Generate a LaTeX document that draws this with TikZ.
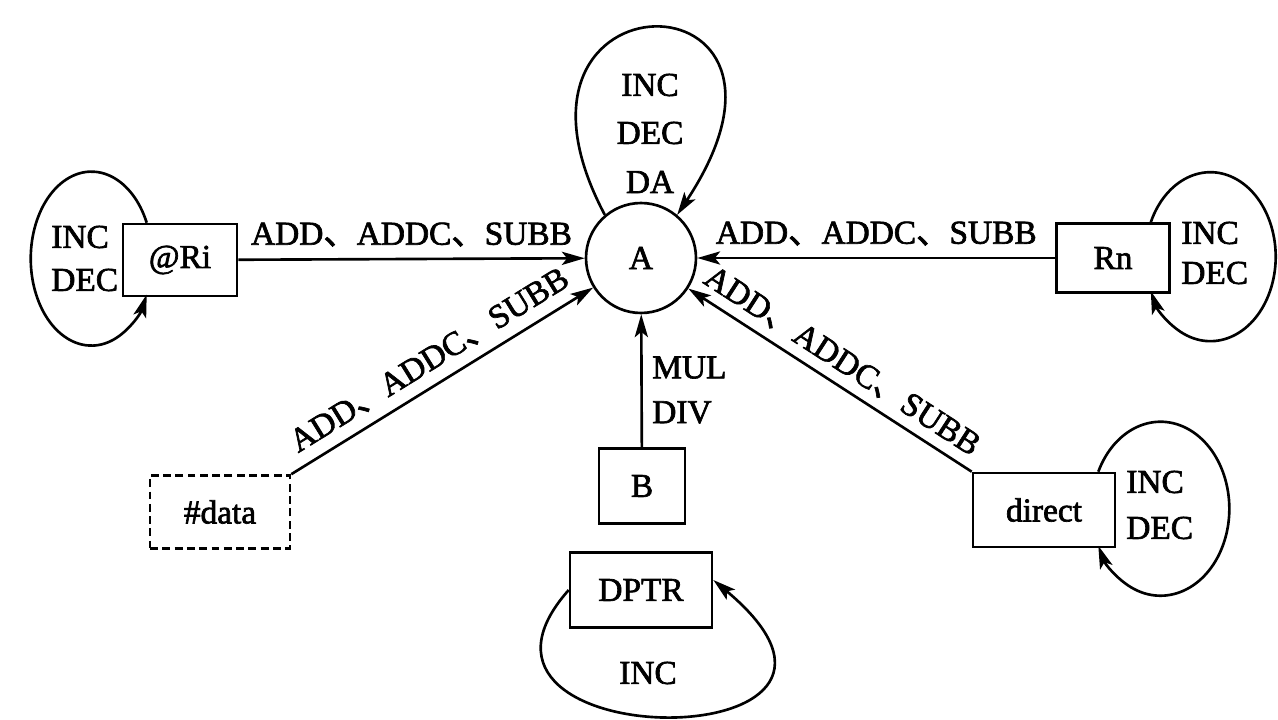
\documentclass[tikz,border=0pt]{standalone}
\usepackage{fontspec}
\setmainfont{Liberation Serif}[FakeBold=2]
\newfontfamily\cjk{Noto Sans CJK SC}[FakeBold=2]
\usetikzlibrary{arrows.meta,calc}
\newcommand{\dun}{{\cjk 、}}
\begin{document}
\begin{tikzpicture}[x=0.02cm,y=-0.02cm,line width=1.5pt,
  font=\fontsize{19pt}{23pt}\selectfont,
  box/.style={draw,rectangle,inner sep=0pt},
  reg/.style={draw,circle,inner sep=0pt,minimum size=2.2cm},
  arr/.style={-{Stealth[length=13pt,width=7.5pt,inset=3pt]}},
  txt/.style={inner sep=0pt},
  lw/.style={txt,anchor=west}]
\useasboundingbox[fill=white] (0,0) rectangle (1278,720);

% accumulator and operand boxes
\node[reg] (A) at (641,258) {A};
\node[box,minimum width=2.28cm,minimum height=1.44cm] (ri) at (180,260) {@Ri};
\node[box,minimum width=2.26cm,minimum height=1.38cm] (rn) at (1113,258) {Rn};
\node[box,dash pattern=on 4.5pt off 2.5pt,minimum width=2.8cm,minimum height=1.46cm] (data) at (220,512) {\#data};
\node[box,minimum width=1.72cm,minimum height=1.5cm] (B) at (642,486) {B};
\node[box,minimum width=2.84cm,minimum height=1.48cm] (dir) at (1044,510) {direct};
\node[box,minimum width=2.84cm,minimum height=1.5cm] (dptr) at (641,590) {DPTR};

% operations into A
\draw[arr] (ri) -- node[above=3pt] {ADD\dun ADDC\dun SUBB} (A);
\draw[arr] (rn) -- node[above=3pt] {ADD\dun ADDC\dun SUBB} (A);
\draw[arr] (data.north east) -- node[sloped,above=3pt] {ADD\dun ADDC\dun SUBB} (A);
\draw[arr] (dir.north west) -- node[sloped,above=2pt] {ADD\dun ADDC\dun SUBB} (A);
\draw[arr] (B) -- node[pos=0.43,right=2pt,align=left,font=\fontsize{19pt}{25.5pt}\selectfont] {MUL\\DIV} (A);

% self loops
\draw[arr] (A.130) .. controls +(-132,-249) and +(165,-249) .. (A.50);
\draw[arr] ($(ri.north west)+(25,0)$) arc[start angle=24.4,end angle=335.6,x radius=1.214cm,y radius=1.74cm];
\draw[arr] ($(rn.north east)+(-20,0)$) arc[start angle=155.9,end angle=-155.9,x radius=1.306cm,y radius=1.69cm];
\draw[arr] ($(dir.north east)+(-18,0)$) arc[start angle=154.8,end angle=-154.8,x radius=1.376cm,y radius=1.74cm];
\draw[arr] (dptr.west) .. controls +(-150,169) and +(217,181) .. ($(dptr.east)+(0,-10)$);

% loop labels
\node[txt] (aInc) at (650,85) {INC};
\node[txt] (aDec) at (650,133) {DEC};
\node[txt] (aDa) at (650,182) {DA};
\node[lw] (riInc) at (50,237) {INC};
\node[lw] (riDec) at (50,280) {DEC};
\node[lw] (rnInc) at (1180,233) {INC};
\node[lw] (rnDec) at (1180,273) {DEC};
\node[lw] (dInc) at (1125,482) {INC};
\node[lw] (dDec) at (1125,528) {DEC};
\node[txt] (pInc) at (648,673) {INC};
\end{tikzpicture}
\end{document}
